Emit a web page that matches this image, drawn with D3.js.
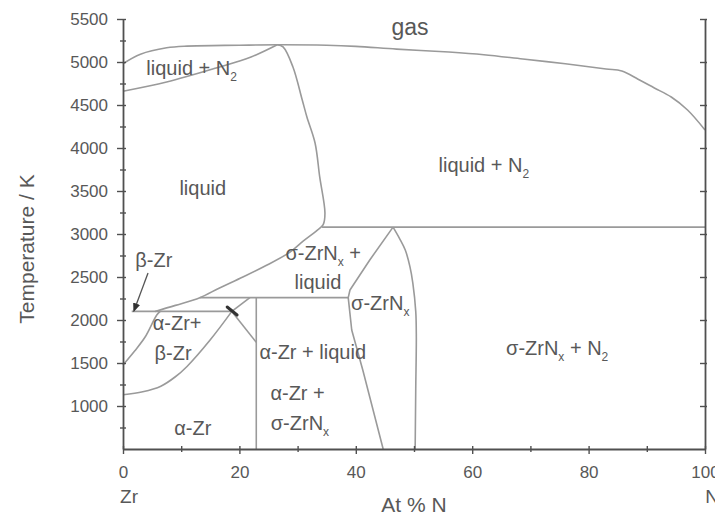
<!DOCTYPE html>
<html>
<head>
<meta charset="utf-8">
<script src="https://cdn.jsdelivr.net/npm/d3@7/dist/d3.min.js"></script>
<style>
  html, body { margin: 0; padding: 0; background: #fff; }
  svg { display: block; font-family: "Liberation Sans", Arial, sans-serif; }
</style>
</head>
<body>
<svg id="chart" width="715" height="515"></svg>
<script>
// Zr–N phase diagram: composition (at.% N) vs temperature (K)

const xTicks = [0, 20, 40, 60, 80, 100];
const xMinor = [10, 30, 50, 70, 90];
const yTicks = [1000, 1500, 2000, 2500, 3000, 3500, 4000, 4500, 5000, 5500];
const yMinor = [750, 1250, 1750, 2250, 2750, 3250, 3750, 4250, 4750, 5250];

// phase boundaries, [at.% N, T / K]
const gasBoundary = [[0, 4980], [3, 5090], [7.5, 5165], [11, 5185], [20, 5195], [26.5, 5200],
  [35, 5195], [40, 5182], [47, 5150], [56, 5116], [62, 5085], [68.7, 5035], [76, 4980],
  [83, 4919], [85.7, 4895], [88.5, 4800], [91.3, 4698], [94.2, 4593], [97, 4442], [100, 4210]];
const liquidN2Lower = [[0, 4660], [7.5, 4767], [16, 4930], [22, 5058], [26.5, 5200]];
const liquidus = [[26.5, 5200], [27.5, 5175], [29.2, 4942], [30.8, 4558], [31.6, 4360],
  [33, 4058], [33.8, 3663], [34.7, 3244], [34.4, 3110], [33.3, 3040], [31, 2920],
  [28.7, 2790], [24.5, 2630], [20.6, 2500], [16.5, 2370], [13.2, 2260], [9, 2170], [5.5, 2100]];
const betaTransus = [[0, 1477], [2, 1640], [3.8, 1802], [5.8, 2058], [6.4, 2100]];
const alphaSolvus = [[0, 1130], [3.4, 1165], [6.5, 1230], [9, 1340], [11, 1460], [15, 1770], [18.7, 2100]];
const eutecticLine = [[1.5, 2100], [18.7, 2100]];
const alphaTop = [[18.7, 2100], [21.8, 2260]];
const alphaRight = [[18.7, 2100], [22.9, 1740]];
const alphaVertical = [[22.9, 2260], [22.9, 500]];
const peritecticLine = [[13.2, 2260], [38.7, 2260]];
const upperLine = [[34.2, 3080], [100, 3080]];
const nitrideLeft = [[46.4, 3080], [42.4, 2698], [39, 2349], [38.7, 2260], [39.3, 1884], [41.2, 1419], [44.7, 500]];
const nitrideRight = [[46.4, 3080], [47.5, 2950], [48.5, 2814], [49.3, 2620], [49.8, 2430],
  [50.3, 2100], [50.4, 1800], [50.3, 1200], [50.2, 500]];
const junctionMark = [[17.9, 2151], [19.6, 2058]];
const betaArrow = [[4.3, 2547], [1.9, 2110]];

// region names, anchored at [at.% N, T / K]
const regionLabels = [
  { at: [49.3, 5407], parts: ["gas"], big: true },
  { at: [11.8, 4930], parts: ["liquid + N", { sub: "2" }] },
  { at: [13.7, 3535], parts: ["liquid"] },
  { at: [62.0, 3802], parts: ["liquid + N", { sub: "2" }] },
  { at: [5.3, 2698], parts: ["β-Zr"] },
  { at: [34.4, 2779], parts: ["σ-ZrN", { sub: "x" }, " +"] },
  { at: [33.5, 2442], parts: ["liquid"] },
  { at: [44.2, 2198], parts: ["σ-ZrN", { sub: "x" }] },
  { at: [9.3, 1965], parts: ["α-Zr+"] },
  { at: [8.6, 1616], parts: ["β-Zr"] },
  { at: [12.0, 744], parts: ["α-Zr"] },
  { at: [32.6, 1628], parts: ["α-Zr + liquid"] },
  { at: [30.0, 1151], parts: ["α-Zr +"] },
  { at: [30.4, 802], parts: ["σ-ZrN", { sub: "x" }] },
  { at: [74.6, 1674], parts: ["σ-ZrN", { sub: "x" }, " + N", { sub: "2" }] }
];

const svg = d3.select("#chart");
const x = d3.scaleLinear().domain([0, 100]).range([123, 705]);
const y = d3.scaleLinear().domain([500, 5500]).range([449, 19]);

const axisColor = "#505050";
const lineColor = "#9a9a9a";
const textColor = "#585858";
const labelSize = 20;

// phase boundary lines
const line = d3.line().x(d => x(d[0])).y(d => y(d[1])).curve(d3.curveLinear);
const smooth = d3.line().x(d => x(d[0])).y(d => y(d[1])).curve(d3.curveCatmullRom.alpha(0.5));
const boundaries = svg.append("g").attr("fill", "none").attr("stroke", lineColor)
  .attr("stroke-width", 1.6).attr("stroke-linejoin", "round");
[gasBoundary, liquidN2Lower, liquidus, betaTransus, alphaSolvus, nitrideRight].forEach(d =>
  boundaries.append("path").attr("d", smooth(d)));
[eutecticLine, alphaTop, alphaRight, alphaVertical, peritecticLine, upperLine, nitrideLeft].forEach(d =>
  boundaries.append("path").attr("d", line(d)));

// dark marker at the α-Zr junction
svg.append("path").attr("d", line(junctionMark)).attr("stroke", "#333")
  .attr("stroke-width", 3).attr("stroke-linecap", "round");

// arrow to the β-Zr field
svg.append("defs").append("marker").attr("id", "arrowhead")
  .attr("viewBox", "0 0 10 10").attr("refX", 8).attr("refY", 5)
  .attr("markerWidth", 7).attr("markerHeight", 7).attr("orient", "auto")
  .append("path").attr("d", "M0,1 L10,5 L0,9 Z").attr("fill", "#333");
svg.append("path").attr("d", line(betaArrow)).attr("stroke", "#555")
  .attr("stroke-width", 1.3).attr("fill", "none").attr("marker-end", "url(#arrowhead)");

// axes
function styleAxis(g) {
  g.selectAll(".domain").attr("stroke", axisColor).attr("stroke-width", 1.8);
  g.selectAll(".tick line").attr("stroke", axisColor).attr("stroke-width", 1.4);
  g.selectAll(".tick text").attr("fill", textColor).attr("font-size", 17)
    .attr("font-family", "'Liberation Sans', Arial, sans-serif");
}
const noLabel = () => "";

// left axis
svg.append("g").attr("transform", `translate(${x(0)},0)`)
  .call(d3.axisLeft(y).tickValues(yTicks).tickSize(6).tickSizeOuter(0).tickPadding(9).tickFormat(d3.format("d")))
  .call(styleAxis);
svg.append("g").attr("transform", `translate(${x(0)},0)`)
  .call(d3.axisLeft(y).tickValues(yMinor).tickSize(3).tickSizeOuter(0).tickFormat(noLabel))
  .call(styleAxis).select(".domain").remove();
svg.append("g").attr("transform", `translate(${x(0)},0)`)
  .call(d3.axisRight(y).tickValues(yTicks.concat(yMinor)).tickSize(3).tickSizeOuter(0).tickFormat(noLabel))
  .call(styleAxis).select(".domain").remove();

// right axis
svg.append("g").attr("transform", `translate(${x(100)},0)`)
  .call(d3.axisLeft(y).tickValues(yTicks).tickSize(5).tickSizeOuter(0).tickFormat(noLabel))
  .call(styleAxis);
svg.append("g").attr("transform", `translate(${x(100)},0)`)
  .call(d3.axisRight(y).tickValues(yTicks).tickSize(2).tickSizeOuter(0).tickFormat(noLabel))
  .call(styleAxis).select(".domain").remove();

// bottom axis
svg.append("g").attr("transform", `translate(0,${y(500)})`)
  .call(d3.axisBottom(x).tickValues(xTicks).tickSize(5).tickSizeOuter(0).tickPadding(12).tickFormat(d3.format("d")))
  .call(styleAxis);
svg.append("g").attr("transform", `translate(0,${y(500)})`)
  .call(d3.axisBottom(x).tickValues(xMinor).tickSize(3).tickSizeOuter(0).tickFormat(noLabel))
  .call(styleAxis).select(".domain").remove();
svg.append("g").attr("transform", `translate(0,${y(500)})`)
  .call(d3.axisTop(x).tickValues(xTicks.concat(xMinor)).tickSize(3).tickSizeOuter(0).tickFormat(noLabel))
  .call(styleAxis).select(".domain").remove();

// axis titles
svg.append("text").attr("transform", "translate(27,249) rotate(-90)")
  .attr("text-anchor", "middle").attr("dy", "0.35em")
  .attr("font-size", 21).attr("fill", textColor).text("Temperature / K");
svg.append("text").attr("x", 414).attr("y", 505).attr("text-anchor", "middle").attr("dy", "0.35em")
  .attr("font-size", 21).attr("fill", textColor).text("At % N");
svg.append("text").attr("x", x(0) + 6).attr("y", 496).attr("text-anchor", "middle").attr("dy", "0.35em")
  .attr("font-size", 19).attr("fill", textColor).text("Zr");
svg.append("text").attr("x", x(100) + 7).attr("y", 496).attr("text-anchor", "middle").attr("dy", "0.35em")
  .attr("font-size", 19).attr("fill", textColor).text("N");

// region labels, with subscripts
const labels = svg.append("g").attr("fill", textColor).attr("text-anchor", "middle");
regionLabels.forEach(lb => {
  const fs = lb.big ? labelSize + 3 : labelSize;
  const t = labels.append("text").attr("x", x(lb.at[0])).attr("y", y(lb.at[1]))
    .attr("dy", "0.35em").attr("font-size", fs);
  const shift = fs * 0.3;
  let lowered = false;
  lb.parts.forEach(p => {
    if (typeof p === "string") {
      const s = t.append("tspan").text(p);
      if (lowered) { s.attr("dy", -shift); lowered = false; }
    } else {
      t.append("tspan").attr("dy", shift).attr("font-size", fs * 0.6).text(p.sub);
      lowered = true;
    }
  });
});
</script>
</body>
</html>
